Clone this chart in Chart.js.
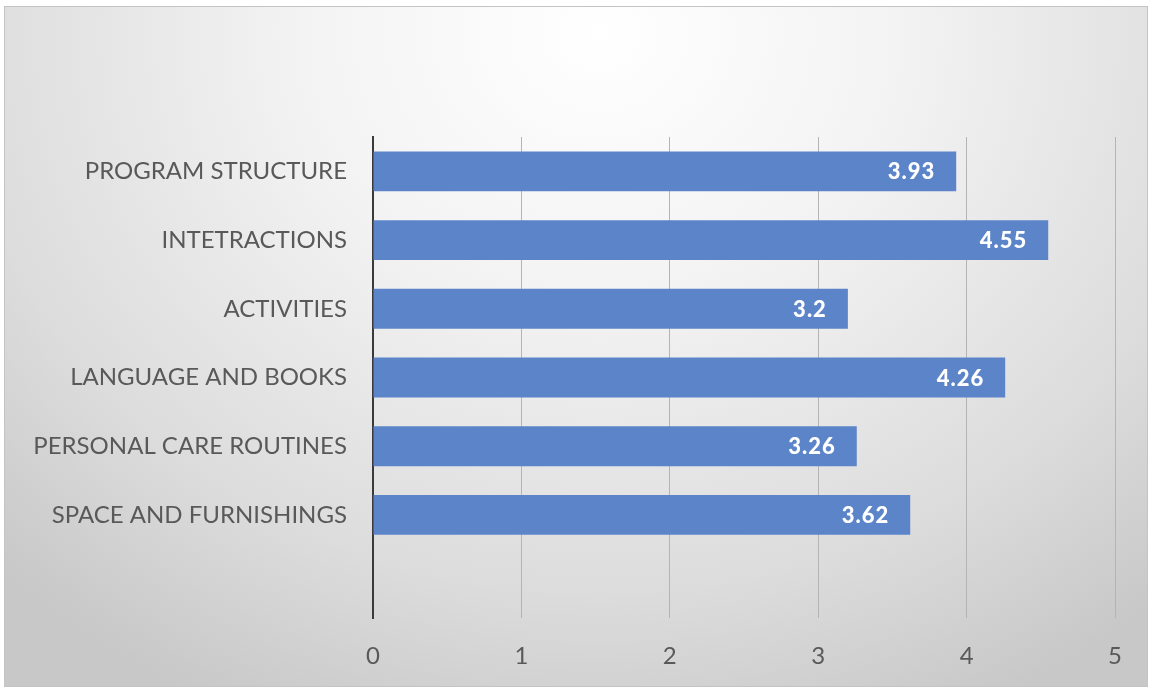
<!DOCTYPE html>
<html>
<head>
<meta charset="utf-8">
<script src="https://cdn.jsdelivr.net/npm/chart.js@4/dist/chart.umd.min.js"></script>
<style>
  html, body { margin: 0; padding: 0; background: #fff; }
  #frame {
    position: absolute; left: 4px; top: 6px; width: 1144px; height: 681px;
    border: 1px solid #c4c4c4; box-sizing: border-box;
    background: radial-gradient(ellipse 75% 110% at 52% 4%, #ffffff 0%, #f3f3f3 35%, #dcdcdc 75%, #c8c8c8 100%);
  }
  #wrap { position: absolute; left: 0; top: 0; width: 1149px; height: 691px; }
</style>
</head>
<body>
<div id="frame"></div>
<div id="wrap"><canvas id="chart" width="1149" height="691"></canvas></div>
<script>
// categories top to bottom; last slot is an empty category as in the original
const categories = [
  'PROGRAM STRUCTURE',
  'INTETRACTIONS',
  'ACTIVITIES',
  'LANGUAGE AND BOOKS',
  'PERSONAL CARE ROUTINES',
  'SPACE AND FURNISHINGS',
  ''
];
const scores = [3.93, 4.55, 3.2, 4.26, 3.26, 3.62, null];
const xTicks = [0, 1, 2, 3, 4, 5];

const FONT = 'Lato, "Open Sans", sans-serif';

// white bold value labels at the inner end of each bar
const valueLabels = {
  id: 'valueLabels',
  afterDatasetsDraw(chart) {
    const ctx = chart.ctx;
    const meta = chart.getDatasetMeta(0);
    ctx.save();
    ctx.font = `900 22px ${FONT}`;
    ctx.letterSpacing = '1px';
    ctx.fillStyle = '#ffffff';
    ctx.textAlign = 'right';
    ctx.textBaseline = 'middle';
    meta.data.forEach((bar, i) => {
      const v = scores[i];
      if (v == null) return;
      ctx.fillText(String(v), bar.x - 21, bar.y + 1);
    });
    ctx.restore();
  }
};

new Chart(document.getElementById('chart'), {
  type: 'bar',
  data: {
    labels: categories,
    datasets: [{
      data: scores,
      backgroundColor: '#5b84c9',
      borderWidth: 0,
      categoryPercentage: 1,
      barPercentage: 0.58,
    }],
  },
  options: {
    indexAxis: 'y',
    responsive: false,
    animation: false,
    layout: { padding: { top: 137, right: 34, left: 0, bottom: 0 } },
    plugins: { legend: { display: false }, tooltip: { enabled: false } },
    scales: {
      x: {
        min: 0, max: 5,
        afterBuildTicks: s => { s.ticks = xTicks.map(v => ({ value: v })); },
        afterFit: s => { s.height = 73; },
        grid: { color: '#b4b4b4', lineWidth: 1, drawTicks: false },
        border: { display: false },
        ticks: { color: '#595959', font: { family: FONT, size: 24 }, padding: 24 },
      },
      y: {
        afterFit: s => { s.width = 373; },
        grid: { display: false },
        border: { color: '#3a3a3a', width: 2 },
        ticks: { color: '#595959', font: { family: FONT, size: 24 }, padding: 18 },
      },
    },
  },
  plugins: [valueLabels],
});
</script>
</body>
</html>
